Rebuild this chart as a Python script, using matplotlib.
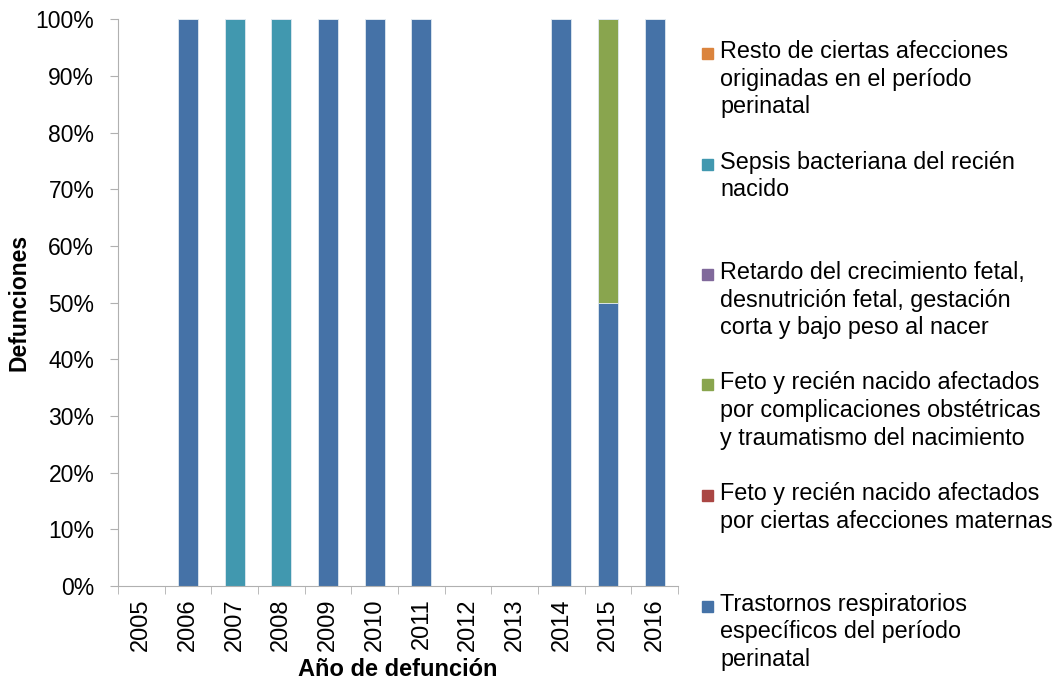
import numpy as np
from matplotlib import pyplot as plt
from matplotlib.patches import Rectangle
from matplotlib.ticker import PercentFormatter

plt.rcParams['font.family'] = ['Liberation Sans', 'DejaVu Sans']

# Years (categories)
years = ['2005', '2006', '2007', '2008', '2009', '2010',
         '2011', '2012', '2013', '2014', '2015', '2016']

# Series values in percent (stack order, bottom to top)
trastornos = [0, 100, 0, 0, 100, 100, 100, 0, 0, 100, 50, 100]
afecciones_maternas = [0, 0, 0, 0, 0, 0, 0, 0, 0, 0, 0, 0]
complicaciones = [0, 0, 0, 0, 0, 0, 0, 0, 0, 0, 50, 0]
retardo = [0, 0, 0, 0, 0, 0, 0, 0, 0, 0, 0, 0]
sepsis = [0, 0, 100, 100, 0, 0, 0, 0, 0, 0, 0, 0]
resto = [0, 0, 0, 0, 0, 0, 0, 0, 0, 0, 0, 0]

series = [trastornos, afecciones_maternas, complicaciones, retardo, sepsis, resto]
labels = [
    'Trastornos respiratorios\nespecíficos del período\nperinatal',
    'Feto y recién nacido afectados\npor ciertas afecciones maternas',
    'Feto y recién nacido afectados\npor complicaciones obstétricas\ny traumatismo del nacimiento',
    'Retardo del crecimiento fetal,\ndesnutrición fetal, gestación\ncorta y bajo peso al nacer',
    'Sepsis bacteriana del recién\nnacido',
    'Resto de ciertas afecciones\noriginadas en el período\nperinatal',
]
colors = ['#4572A7', '#AA4643', '#89A54E', '#80699B', '#4198AF', '#DB843D']

fig = plt.figure(figsize=(10.57, 6.83), dpi=100)
ax = fig.add_axes([0.1116, 0.142, 0.53, 0.830])

x = np.arange(len(years))
bottom = np.zeros(len(years))
for vals, col, lab in zip(series, colors, labels):
    ax.bar(x, vals, 0.43, bottom=bottom, color=col, edgecolor='#dfe8f0', linewidth=0.6, label=lab)
    bottom += np.array(vals)

ax.set_xlim(-0.5, len(years) - 0.5)
ax.set_ylim(0, 100)
ax.set_yticks(np.arange(0, 101, 10))
ax.yaxis.set_major_formatter(PercentFormatter(decimals=0))

# Category labels at centres, ticks at boundaries
ax.set_xticks(x)
ax.set_xticklabels(years, rotation=90, fontsize=17)
ax.set_xticks(np.arange(-0.5, len(years)), minor=True)
ax.tick_params(axis='x', which='major', length=0, pad=9)
ax.tick_params(axis='x', which='minor', length=6, color='#b0b0b0', direction='out')
ax.tick_params(axis='y', length=6, color='#b0b0b0', labelsize=16.5, pad=11)

for s in ['top', 'right']:
    ax.spines[s].set_visible(False)
for s in ['left', 'bottom']:
    ax.spines[s].set_color('#b0b0b0')

ax.set_xlabel('Año de defunción', fontsize=17, fontweight='bold', labelpad=5)
ax.set_ylabel('Defunciones', fontsize=16.5, fontweight='bold', labelpad=4)

# Legend, drawn as evenly spaced entries, reversed order
top_y = 1 - 40 / 683
step = 110.5 / 683
for i, (col, lab) in enumerate(zip(colors[::-1], labels[::-1])):
    y = top_y - i * step
    fig.patches.append(Rectangle((702 / 1057, y - 19 / 683), 11 / 1057, 11 / 683,
                                 transform=fig.transFigure, color=col))
    fig.text(720 / 1057, y, lab, fontsize=16.8, va='top', ha='left', linespacing=1.26)

fig.savefig('out.png', dpi=100)
